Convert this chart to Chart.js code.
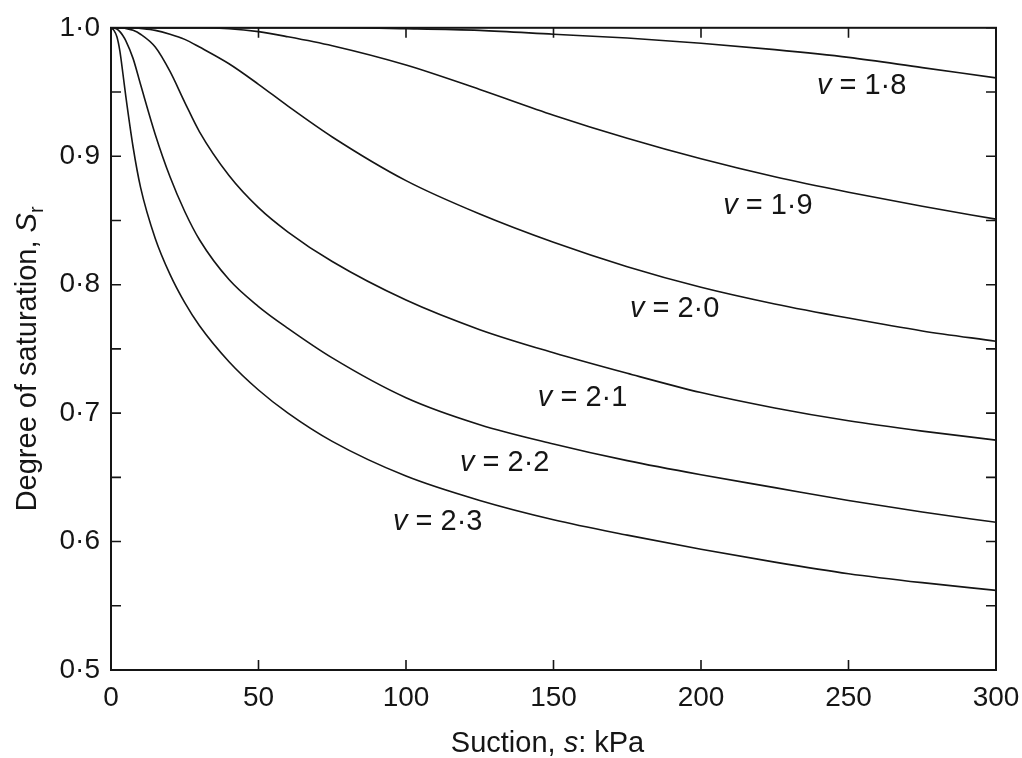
<!DOCTYPE html>
<html>
<head>
<meta charset="utf-8">
<script src="https://cdn.jsdelivr.net/npm/chart.js@4.4.0/dist/chart.umd.min.js"></script>
<style>
  html, body { margin: 0; padding: 0; background: #fff; }
</style>
</head>
<body>
<canvas id="lineChart" width="1022" height="758"></canvas>
<script>
// suction s (kPa) and degree of saturation Sr for each specific volume v
var suction = [0, 1, 2, 3, 4, 5, 7.5, 10, 15, 20, 25, 30, 40, 50, 60, 75, 100, 125, 150, 175, 200, 225, 250, 275, 300];
var sat18 = [1, 1, 1, 1, 1, 1, 1, 1, 1, 1, 1, 1, 1, 1, 1, 1, 0.9993, 0.998, 0.995, 0.992, 0.988, 0.983, 0.977, 0.969, 0.961];
var sat19 = [1, 1, 1, 1, 1, 1, 1, 1, 1, 1, 1, 1, 0.9993, 0.997, 0.993, 0.986, 0.971, 0.952, 0.932, 0.914, 0.898, 0.884, 0.872, 0.861, 0.851];
var sat20 = [1, 1, 1, 1, 1, 1, 1, 0.9995, 0.998, 0.995, 0.991, 0.985, 0.972, 0.956, 0.939, 0.915, 0.881, 0.855, 0.833, 0.814, 0.798, 0.785, 0.774, 0.764, 0.756];
var sat21 = [1, 1, 1, 1, 1, 0.9995, 0.998, 0.995, 0.985, 0.966, 0.942, 0.919, 0.885, 0.860, 0.841, 0.818, 0.788, 0.765, 0.747, 0.731, 0.716, 0.704, 0.694, 0.686, 0.679];
var sat22 = [1, 0.9998, 0.999, 0.997, 0.994, 0.990, 0.976, 0.956, 0.917, 0.884, 0.857, 0.835, 0.804, 0.783, 0.766, 0.743, 0.712, 0.691, 0.676, 0.663, 0.652, 0.642, 0.632, 0.623, 0.615];
var sat23 = [1, 0.998, 0.993, 0.982, 0.965, 0.947, 0.907, 0.876, 0.836, 0.808, 0.786, 0.768, 0.740, 0.718, 0.700, 0.678, 0.651, 0.632, 0.617, 0.605, 0.594, 0.584, 0.575, 0.568, 0.562];

var volumes = ['1·8', '1·9', '2·0', '2·1', '2·2', '2·3'];
var series = [sat18, sat19, sat20, sat21, sat22, sat23];

// where each "v = ..." note sits (left edge, vertical middle), in axis units
var notes = [[239.3, 0.955], [207.5, 0.861], [175.9, 0.781], [144.7, 0.712], [118.3, 0.661], [95.6, 0.615]];

var FONT = "'Liberation Sans', Arial, Helvetica, sans-serif";
var INK = '#151515';

function toPoints(arr) {
    return suction.map(function (s, i) { return { x: s, y: arr[i] }; });
}

// draw a run of text pieces, some in italics, starting at x
function drawPieces(ctx, pieces, x, y, size) {
    pieces.forEach(function (p) {
        var sz = p.size || size;
        ctx.font = (p.italic ? 'italic ' : '') + sz + 'px ' + FONT;
        ctx.fillText(p.text, x, y + (p.shift || 0));
        x += ctx.measureText(p.text).width;
    });
}

function piecesWidth(ctx, pieces, size) {
    var w = 0;
    pieces.forEach(function (p) {
        ctx.font = (p.italic ? 'italic ' : '') + (p.size || size) + 'px ' + FONT;
        w += ctx.measureText(p.text).width;
    });
    return w;
}

var framePlugin = {
    id: 'frame',
    afterDatasetsDraw: function (chart) {
        var ctx = chart.ctx;
        var a = chart.chartArea;
        var xs = chart.scales.x;
        var ys = chart.scales.y;
        ctx.save();
        ctx.strokeStyle = INK;

        // box round the plot
        ctx.lineWidth = 2;
        ctx.strokeRect(a.left, a.top, a.right - a.left, a.bottom - a.top);

        // inward ticks on all four sides
        ctx.lineWidth = 1.6;
        ctx.beginPath();
        xs.ticks.forEach(function (t) {
            var px = xs.getPixelForValue(t.value);
            ctx.moveTo(px, a.bottom); ctx.lineTo(px, a.bottom - 10);
            ctx.moveTo(px, a.top); ctx.lineTo(px, a.top + 10);
        });
        ys.ticks.forEach(function (t) {
            var py = ys.getPixelForValue(t.value);
            ctx.moveTo(a.left, py); ctx.lineTo(a.left + 10, py);
            ctx.moveTo(a.right, py); ctx.lineTo(a.right - 10, py);
        });
        ctx.stroke();

        // curve labels
        ctx.fillStyle = INK;
        ctx.textBaseline = 'middle';
        ctx.textAlign = 'left';
        notes.forEach(function (n, i) {
            drawPieces(ctx, [
                { text: 'v', italic: true },
                { text: ' = ' + volumes[i] }
            ], xs.getPixelForValue(n[0]), ys.getPixelForValue(n[1]), 29);
        });

        // x axis title
        ctx.textBaseline = 'alphabetic';
        var xt = [{ text: 'Suction, ' }, { text: 's', italic: true }, { text: ': kPa' }];
        var w = piecesWidth(ctx, xt, 29);
        drawPieces(ctx, xt, (a.left + a.right) / 2 - 6 - w / 2, a.bottom + 82, 29);

        // y axis title, turned on its side
        var yt = [
            { text: 'Degree of saturation, ' },
            { text: 'S', italic: true },
            { text: 'r', size: 20, shift: 7 }
        ];
        w = piecesWidth(ctx, yt, 29);
        ctx.translate(36, (a.top + a.bottom) / 2 + 10);
        ctx.rotate(-Math.PI / 2);
        drawPieces(ctx, yt, -w / 2, 0, 29);
        ctx.restore();
    }
};

var ctx = document.getElementById('lineChart').getContext('2d');
new Chart(ctx, {
    type: 'line',
    data: {
        datasets: series.map(function (arr, i) {
            return {
                label: 'v = ' + volumes[i],
                data: toPoints(arr),
                borderColor: INK,
                borderWidth: 1.6,
                pointRadius: 0,
                fill: false,
                cubicInterpolationMode: 'monotone'
            };
        })
    },
    options: {
        responsive: false,
        animation: false,
        devicePixelRatio: 1,
        layout: { padding: { left: 0, right: 26, top: 27, bottom: 0 } },
        plugins: {
            legend: { display: false },
            tooltip: { enabled: false }
        },
        scales: {
            x: {
                type: 'linear',
                min: 0,
                max: 300,
                grid: { display: false, drawTicks: false },
                border: { display: false },
                ticks: {
                    stepSize: 50,
                    padding: 11,
                    color: INK,
                    font: { family: FONT, size: 28 }
                },
                afterFit: function (scale) {
                    scale.height = 88;
                    scale.paddingLeft = 0;
                    scale.paddingRight = 0;
                }
            },
            y: {
                min: 0.5,
                max: 1.0,
                grid: { display: false, drawTicks: false },
                border: { display: false },
                ticks: {
                    stepSize: 0.05,
                    autoSkip: false,
                    padding: 11,
                    color: INK,
                    font: { family: FONT, size: 28 },
                    callback: function (v) {
                        var k = Math.round(v * 100);
                        return k % 10 === 0 ? (k / 100).toFixed(1).replace('.', '·') : '';
                    }
                },
                afterFit: function (scale) { scale.width = 111; }
            }
        }
    },
    plugins: [framePlugin]
});
</script>
</body>
</html>
